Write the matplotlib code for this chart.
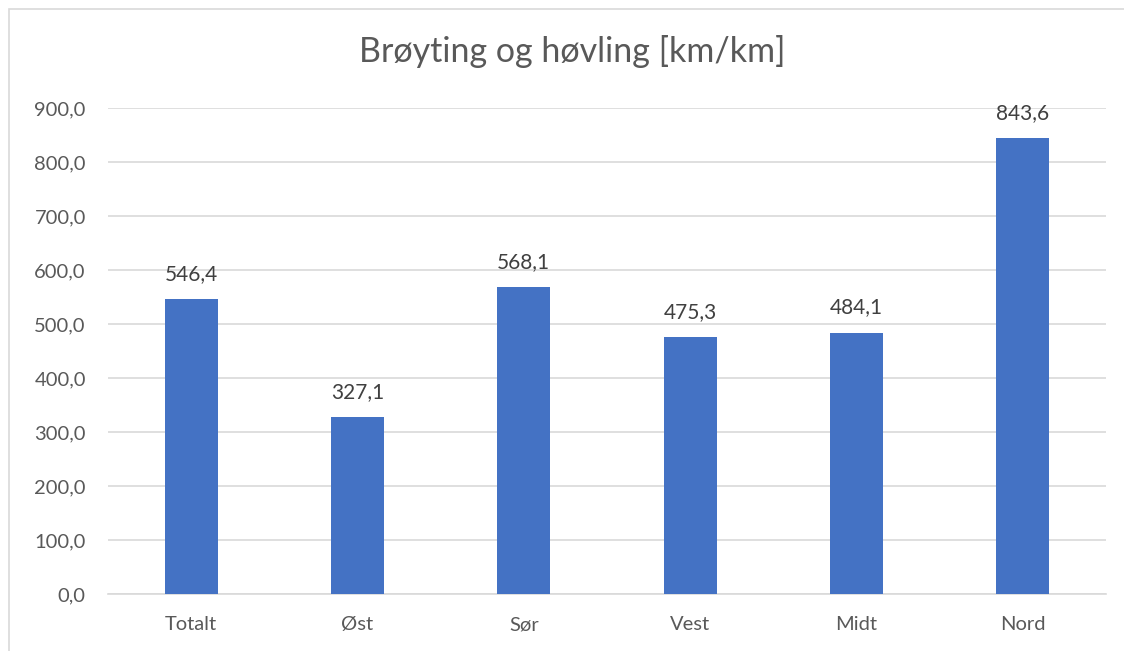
import matplotlib
matplotlib.use('Agg')
import matplotlib.pyplot as plt
from matplotlib.patches import Rectangle

# Data
kategorier = ['Totalt', 'Øst', 'Sør', 'Vest', 'Midt', 'Nord']
verdier = [546.4, 327.1, 568.1, 475.3, 484.1, 843.6]
yticks = [0, 100, 200, 300, 400, 500, 600, 700, 800, 900]

tekstfarge = '#595959'
plt.rcParams['font.family'] = ['Lato', 'DejaVu Sans']

fig = plt.figure(figsize=(11.24, 6.51), dpi=100)
ax = fig.add_axes([108/1124, 1 - 594/651, (1106 - 108)/1124, (594 - 108)/651])

# Ramme rundt diagrammet (høyre og nederste kant er utenfor bildet)
fig.patches.append(Rectangle((9/1124, -0.1), 1.2, 1 - 9/651 + 0.1,
                             transform=fig.transFigure, fill=False,
                             edgecolor='#D9D9D9', linewidth=1.2))

x = range(len(kategorier))
ax.bar(x, verdier, width=0.32, color='#4472C4', zorder=3)

for xi, v in zip(x, verdier):
    ax.text(xi, v + 28, f'{v:.1f}'.replace('.', ','), ha='center', va='bottom',
            fontsize=15, color='#404040')

ax.set_xlim(-0.5, len(kategorier) - 0.5)
ax.set_ylim(0, 900)
ax.set_yticks(yticks)
ax.set_yticklabels([f'{t:.1f}'.replace('.', ',') for t in yticks])
ax.set_xticks(list(x))
ax.set_xticklabels(kategorier)

ax.grid(axis='y', color='#D9D9D9', linewidth=1.2, zorder=0)
for s in ['top', 'right', 'left']:
    ax.spines[s].set_visible(False)
ax.spines['bottom'].set_color('#D9D9D9')
ax.spines['bottom'].set_linewidth(1.2)
ax.tick_params(axis='both', length=0, labelsize=14.5, colors=tekstfarge)
ax.tick_params(axis='y', pad=16)
ax.tick_params(axis='x', pad=16)

fig.text(572/1124, 1 - 52/651, 'Brøyting og høvling [km/km]', ha='center', va='center',
         fontsize=24.5, color=tekstfarge)

fig.savefig('out.png', dpi=100)
